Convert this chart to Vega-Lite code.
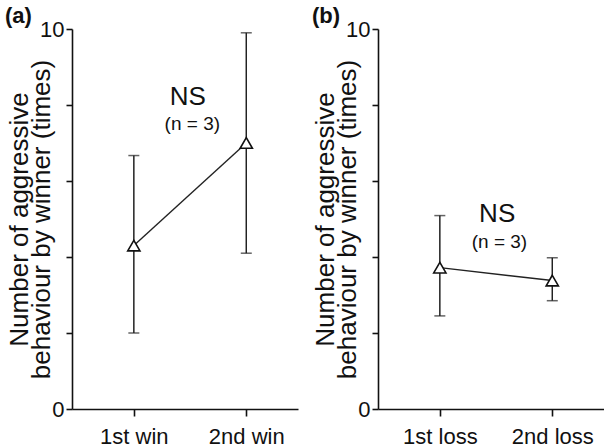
{
  "$schema": "https://vega.github.io/schema/vega-lite/v6.json",
  "padding": {"left": 5, "top": 5, "right": 0, "bottom": 0},
  "spacing": 14,
  "background": "white",
  "config": {
    "view": {"stroke": null},
    "font": "Liberation Sans",
    "axis": {
      "domainColor": "#111", "domainWidth": 1.6, "tickColor": "#111", "tickWidth": 1.6,
      "grid": false, "labelColor": "#111", "titleColor": "#111",
      "labelFont": "Liberation Sans", "titleFont": "Liberation Sans", "titleFontWeight": "normal"
    }
  },
  "datasets": {
    "pts": [
      {"panel": "a", "x": 1, "mean": 4.3, "lo": 2.0, "hi": 6.67},
      {"panel": "a", "x": 2, "mean": 7.0, "lo": 4.1, "hi": 9.9},
      {"panel": "b", "x": 1, "mean": 3.72, "lo": 2.45, "hi": 5.09},
      {"panel": "b", "x": 2, "mean": 3.38, "lo": 2.85, "hi": 3.98}
    ],
    "notes": [
      {"panel": "a", "kind": "big", "x": 1.48, "y": 8.2, "text": "NS"},
      {"panel": "a", "kind": "small", "x": 1.52, "y": 7.5, "text": "(n = 3)"},
      {"panel": "b", "kind": "big", "x": 1.51, "y": 5.13, "text": "NS"},
      {"panel": "b", "kind": "small", "x": 1.53, "y": 4.4, "text": "(n = 3)"}
    ]
  },
  "hconcat": [
    {
      "width": 226, "height": 380,
      "title": {"text": "(a)", "anchor": "start", "frame": "group", "dx": -67, "offset": -10, "fontSize": 22, "fontWeight": "bold", "color": "#111"},
      "encoding": {
        "x": {"field": "x", "type": "quantitative",
          "scale": {"domain": [0.45, 2.46], "nice": false, "zero": false},
          "axis": {"values": [1, 2], "labelExpr": "datum.value == 1 ? '1st win' : '2nd win'", "title": null, "tickSize": 7, "labelPadding": 10, "labelFontSize": 22}}
      },
      "layer": [
        {
          "data": {"name": "pts"},
          "transform": [{"filter": "datum.panel === 'a'"}],
          "mark": {"type": "rule", "strokeWidth": 1.5, "color": "#222"},
          "encoding": {
            "y": {"field": "lo", "type": "quantitative",
              "scale": {"domain": [0, 10], "nice": false, "zero": true},
              "axis": {"title": ["Number of aggressive", "behaviour by winner (times)"], "values": [0, 2, 4, 6, 8, 10],
                "labelExpr": "datum.value == 0 || datum.value == 10 ? datum.label : ''",
                "labelFontSize": 22, "titleFontSize": 26, "titleLineHeight": 22, "tickSize": 6, "labelPadding": 2, "titlePadding": -15}},
            "y2": {"field": "hi"}
          }
        },
        {
          "data": {"name": "pts"},
          "transform": [{"filter": "datum.panel === 'a'"}],
          "mark": {"type": "tick", "orient": "horizontal", "size": 11, "thickness": 1.5, "color": "#222"},
          "encoding": {"y": {"field": "lo", "type": "quantitative"}}
        },
        {
          "data": {"name": "pts"},
          "transform": [{"filter": "datum.panel === 'a'"}],
          "mark": {"type": "tick", "orient": "horizontal", "size": 11, "thickness": 1.5, "color": "#222"},
          "encoding": {"y": {"field": "hi", "type": "quantitative"}}
        },
        {
          "data": {"name": "pts"},
          "transform": [{"filter": "datum.panel === 'a'"}],
          "mark": {"type": "line", "color": "#222", "strokeWidth": 1.4},
          "encoding": {"y": {"field": "mean", "type": "quantitative"}}
        },
        {
          "data": {"name": "pts"},
          "transform": [{"filter": "datum.panel === 'a'"}],
          "mark": {"type": "point", "shape": "triangle-up", "size": 150, "filled": true, "fill": "white", "stroke": "#111", "strokeWidth": 1.6, "opacity": 1},
          "encoding": {"y": {"field": "mean", "type": "quantitative"}}
        },
        {
          "data": {"name": "notes"},
          "transform": [{"filter": "datum.panel === 'a' && datum.kind === 'big'"}],
          "mark": {"type": "text", "fontSize": 26, "color": "#111"},
          "encoding": {"y": {"field": "y", "type": "quantitative"}, "text": {"field": "text"}}
        },
        {
          "data": {"name": "notes"},
          "transform": [{"filter": "datum.panel === 'a' && datum.kind === 'small'"}],
          "mark": {"type": "text", "fontSize": 19, "color": "#111"},
          "encoding": {"y": {"field": "y", "type": "quantitative"}, "text": {"field": "text"}}
        }
      ]
    },
    {
      "width": 226, "height": 380,
      "title": {"text": "(b)", "anchor": "start", "frame": "group", "dx": -66, "offset": -10, "fontSize": 22, "fontWeight": "bold", "color": "#111"},
      "encoding": {
        "x": {"field": "x", "type": "quantitative",
          "scale": {"domain": [0.45, 2.46], "nice": false, "zero": false},
          "axis": {"values": [1, 2], "labelExpr": "datum.value == 1 ? '1st loss' : '2nd loss'", "title": null, "tickSize": 7, "labelPadding": 10, "labelFontSize": 22}}
      },
      "layer": [
        {
          "data": {"name": "pts"},
          "transform": [{"filter": "datum.panel === 'b'"}],
          "mark": {"type": "rule", "strokeWidth": 1.5, "color": "#222"},
          "encoding": {
            "y": {"field": "lo", "type": "quantitative",
              "scale": {"domain": [0, 10], "nice": false, "zero": true},
              "axis": {"title": ["Number of aggressive", "behaviour by winner (times)"], "values": [0, 2, 4, 6, 8, 10],
                "labelExpr": "datum.value == 0 || datum.value == 10 ? datum.label : ''",
                "labelFontSize": 22, "titleFontSize": 26, "titleLineHeight": 22, "tickSize": 6, "labelPadding": 2, "titlePadding": -15}},
            "y2": {"field": "hi"}
          }
        },
        {
          "data": {"name": "pts"},
          "transform": [{"filter": "datum.panel === 'b'"}],
          "mark": {"type": "tick", "orient": "horizontal", "size": 11, "thickness": 1.5, "color": "#222"},
          "encoding": {"y": {"field": "lo", "type": "quantitative"}}
        },
        {
          "data": {"name": "pts"},
          "transform": [{"filter": "datum.panel === 'b'"}],
          "mark": {"type": "tick", "orient": "horizontal", "size": 11, "thickness": 1.5, "color": "#222"},
          "encoding": {"y": {"field": "hi", "type": "quantitative"}}
        },
        {
          "data": {"name": "pts"},
          "transform": [{"filter": "datum.panel === 'b'"}],
          "mark": {"type": "line", "color": "#222", "strokeWidth": 1.4},
          "encoding": {"y": {"field": "mean", "type": "quantitative"}}
        },
        {
          "data": {"name": "pts"},
          "transform": [{"filter": "datum.panel === 'b'"}],
          "mark": {"type": "point", "shape": "triangle-up", "size": 150, "filled": true, "fill": "white", "stroke": "#111", "strokeWidth": 1.6, "opacity": 1},
          "encoding": {"y": {"field": "mean", "type": "quantitative"}}
        },
        {
          "data": {"name": "notes"},
          "transform": [{"filter": "datum.panel === 'b' && datum.kind === 'big'"}],
          "mark": {"type": "text", "fontSize": 26, "color": "#111"},
          "encoding": {"y": {"field": "y", "type": "quantitative"}, "text": {"field": "text"}}
        },
        {
          "data": {"name": "notes"},
          "transform": [{"filter": "datum.panel === 'b' && datum.kind === 'small'"}],
          "mark": {"type": "text", "fontSize": 19, "color": "#111"},
          "encoding": {"y": {"field": "y", "type": "quantitative"}, "text": {"field": "text"}}
        }
      ]
    }
  ]
}
